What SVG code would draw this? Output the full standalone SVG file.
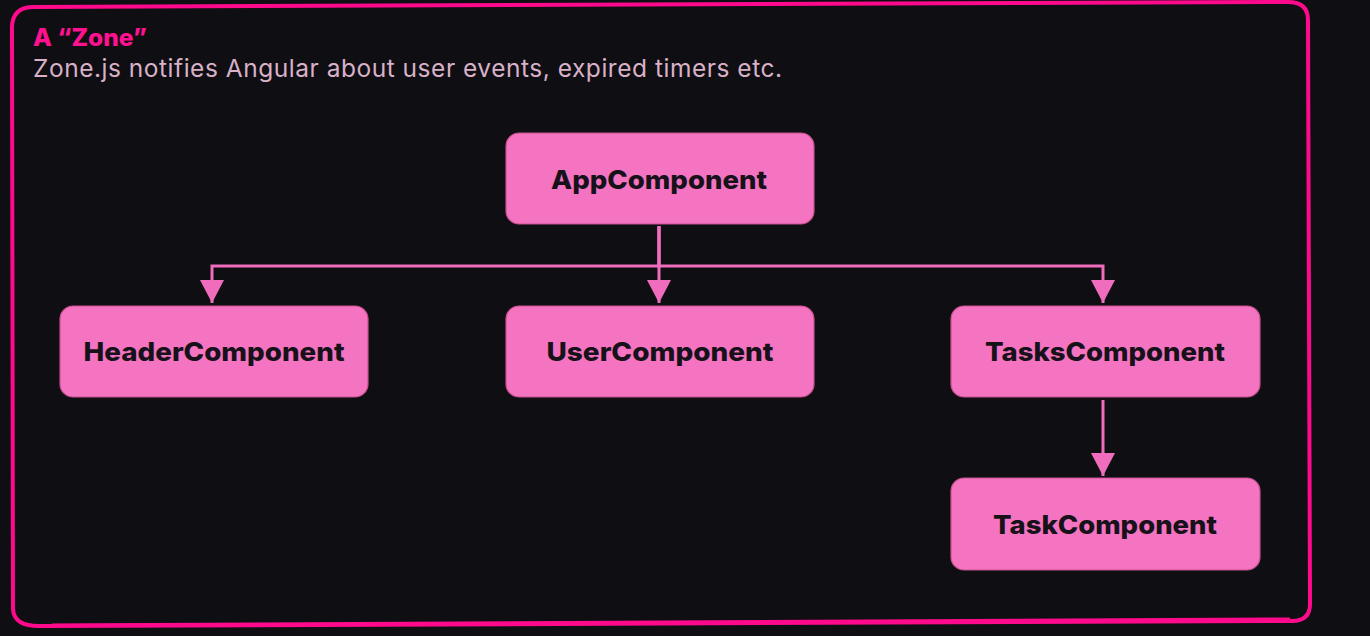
<svg xmlns="http://www.w3.org/2000/svg" width="1370" height="636" viewBox="0 0 1370 636">
  <defs>
    <style>
      .bg { fill: #0f0e12; }
      .frame { fill: none; stroke: #ff0a8c; stroke-width: 4; stroke-linejoin: round; }
      .title { font-family: Inter, "Liberation Sans", sans-serif; font-weight: 800; font-size: 24px; fill: #ff1190; }
      .subtitle { font-family: Inter, "Liberation Sans", sans-serif; font-weight: 400; font-size: 24.5px; fill: #d8b1c8; }
      .box { fill: #f574c2; stroke: #c9508f; stroke-width: 1.2; }
      .label { font-family: Inter, "Liberation Sans", sans-serif; font-weight: 800; font-size: 26px; fill: #17121a; text-anchor: middle; }
      .edge { fill: none; stroke: #f06cbd; stroke-width: 3; }
    </style>
    <marker id="arrow" markerUnits="userSpaceOnUse" markerWidth="24" markerHeight="26" viewBox="0 0 24 26" refX="23" refY="13" orient="auto">
      <path d="M0,1 L23,13 L0,25 Z" fill="#f06cbd"/>
    </marker>
  </defs>

  <rect class="bg" x="0" y="0" width="1370" height="636"/>

  <!-- outer zone frame -->
  <path class="frame" d="M12,30 Q11,8 32,7 L1288,2 Q1308,2 1308,20 L1310,604 Q1310,621 1292,621 L42,626 Q13,627 13,608 Z"/>
  <path class="frame" style="stroke-width:3" d="M52,625 L1290,619"/>

  <text class="title" x="33" y="46" textLength="114" lengthAdjust="spacingAndGlyphs">A “Zone”</text>
  <text class="subtitle" x="33" y="77" textLength="749" lengthAdjust="spacing">Zone.js notifies Angular about user events, expired timers etc.</text>

  <!-- connectors -->
  <g id="connectors">
    <path class="edge" d="M659,226 V266 H212 V303" marker-end="url(#arrow)"/>
    <path class="edge" d="M659,226 V303" marker-end="url(#arrow)"/>
    <path class="edge" d="M659,226 V266 H1103 V303" marker-end="url(#arrow)"/>
    <path class="edge" d="M1103,400 V476" marker-end="url(#arrow)"/>
  </g>

  <g id="app-component">
    <rect class="box" x="506" y="133" width="308" height="91" rx="13"/>
    <text class="label" x="659" y="189" textLength="216" lengthAdjust="spacingAndGlyphs">AppComponent</text>
  </g>
  <g id="header-component">
    <rect class="box" x="60" y="306" width="308" height="91" rx="13"/>
    <text class="label" x="214" y="361" textLength="261" lengthAdjust="spacingAndGlyphs">HeaderComponent</text>
  </g>
  <g id="user-component">
    <rect class="box" x="506" y="306" width="308" height="91" rx="13"/>
    <text class="label" x="660" y="361" textLength="227" lengthAdjust="spacingAndGlyphs">UserComponent</text>
  </g>
  <g id="tasks-component">
    <rect class="box" x="951" y="306" width="309" height="91" rx="13"/>
    <text class="label" x="1105" y="361" textLength="240" lengthAdjust="spacingAndGlyphs">TasksComponent</text>
  </g>
  <g id="task-component">
    <rect class="box" x="951" y="478" width="309" height="92" rx="13"/>
    <text class="label" x="1105" y="534" textLength="224" lengthAdjust="spacingAndGlyphs">TaskComponent</text>
  </g>
</svg>
